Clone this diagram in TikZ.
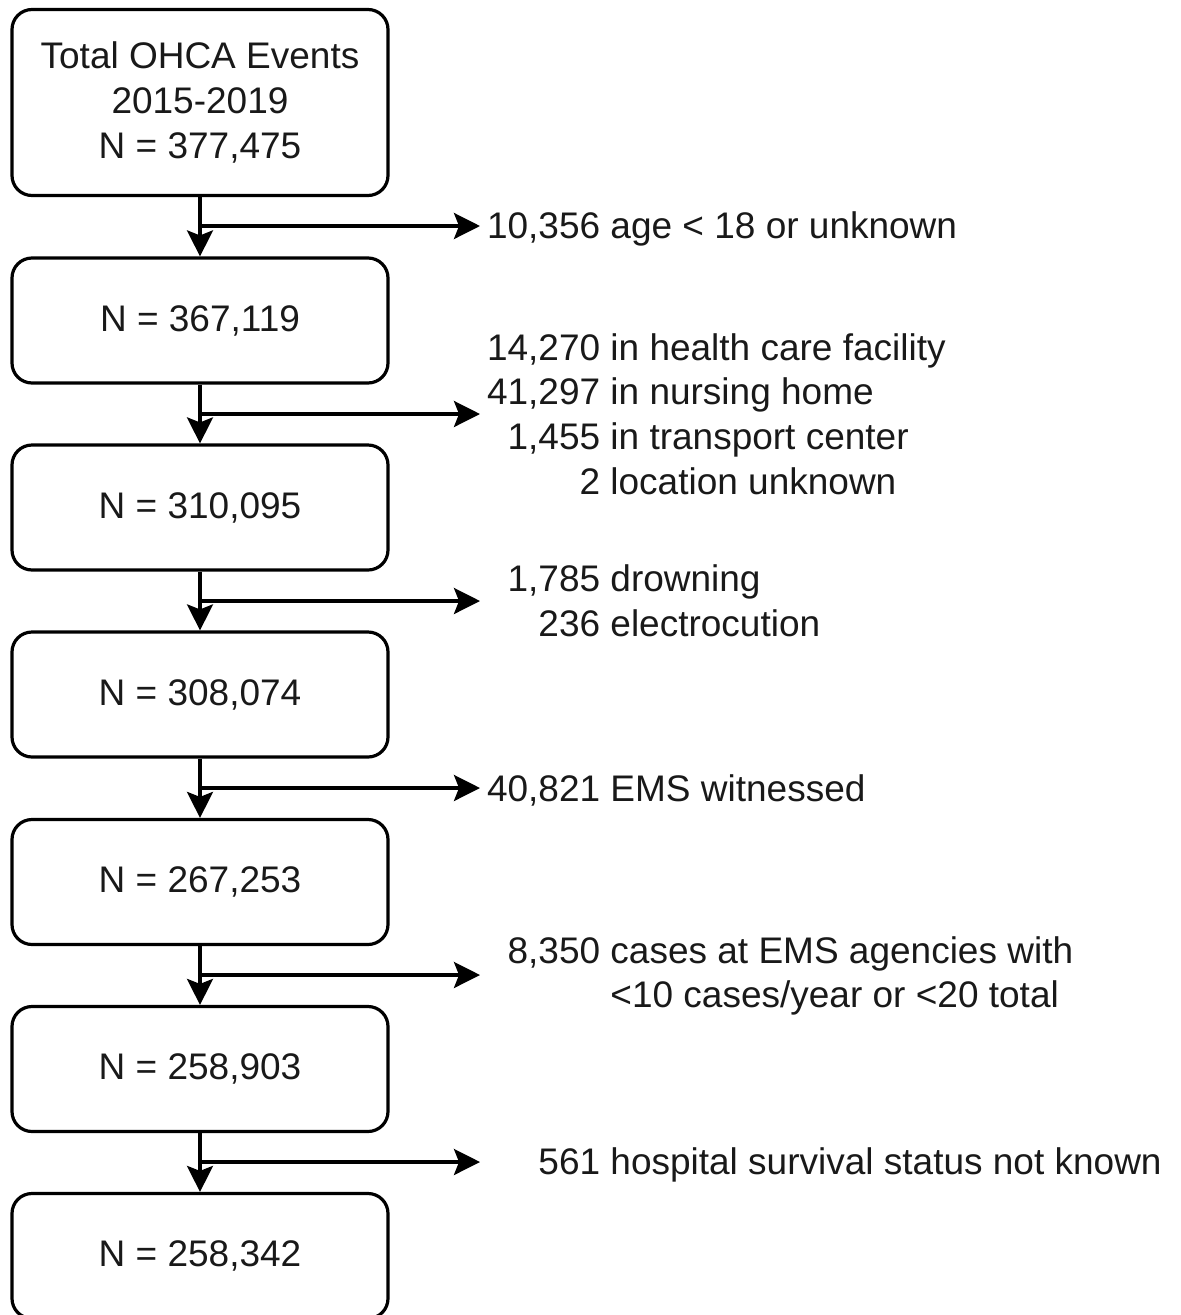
\documentclass[tikz,border=0pt]{standalone}
\usepackage{fontspec}
\setmainfont{Liberation Sans}
\usetikzlibrary{arrows.meta}
\newcommand{\numcol}[1]{\makebox[120pt][r]{#1}}
\begin{document}
\begin{tikzpicture}[x=1pt,y=-1pt,
  font=\fontsize{37}{44.7}\selectfont,
  stepbox/.style={draw, line width=3.2pt, rounded corners=20pt, minimum width=376pt, minimum height=125pt, align=center, inner sep=0pt, text=black!90},
  lbl/.style={anchor=west, inner sep=0pt, align=left, text=black!90},
  arr/.style={line width=3.2pt, -{Stealth[length=26pt,width=26pt,inset=5pt]}},
]
\useasboundingbox (0,0) rectangle (1181,1315);

\node[stepbox, minimum height=186pt] (b1) at (200,102.5) {Total OHCA Events\\2015-2019\\N = 377,475};
\node[stepbox] (b2) at (200,320.5) {N = 367,119};
\node[stepbox] (b3) at (200,507.5) {N = 310,095};
\node[stepbox] (b4) at (200,694.5) {N = 308,074};
\node[stepbox] (b5) at (200,882) {N = 267,253};
\node[stepbox] (b6) at (200,1069) {N = 258,903};
\node[stepbox] (b7) at (200,1256) {N = 258,342};

\coordinate (j1) at (200,226);
\coordinate (j2) at (200,414);
\coordinate (j3) at (200,601);
\coordinate (j4) at (200,788);
\coordinate (j5) at (200,975);
\coordinate (j6) at (200,1162);

\node[lbl] (t1) at (480,229) {\numcol{10,356} age < 18 or unknown};
\node[lbl] (t2) at (480,414) {\numcol{14,270} in health care facility\\\numcol{41,297} in nursing home\\\numcol{1,455} in transport center\\\numcol{2} location unknown};
\node[lbl] (t3) at (480,601) {\numcol{1,785} drowning\\\numcol{236} electrocution};
\node[lbl] (t4) at (480,790) {\numcol{40,821} EMS witnessed};
\node[lbl] (t5) at (480,976) {\numcol{8,350} cases at EMS agencies with\\\numcol{} <10 cases/year or <20 total};
\node[lbl] (t6) at (480,1165) {\numcol{561} hospital survival status not known};

\draw[arr] (b1) -- (b2);
\draw[arr] (b2) -- (b3);
\draw[arr] (b3) -- (b4);
\draw[arr] (b4) -- (b5);
\draw[arr] (b5) -- (b6);
\draw[arr] (b6) -- (b7);

\draw[arr] (j1) -- (j1 -| t1.west);
\draw[arr] (j2) -- (j2 -| t2.west);
\draw[arr] (j3) -- (j3 -| t3.west);
\draw[arr] (j4) -- (j4 -| t4.west);
\draw[arr] (j5) -- (j5 -| t5.west);
\draw[arr] (j6) -- (j6 -| t6.west);
\end{tikzpicture}
\end{document}
